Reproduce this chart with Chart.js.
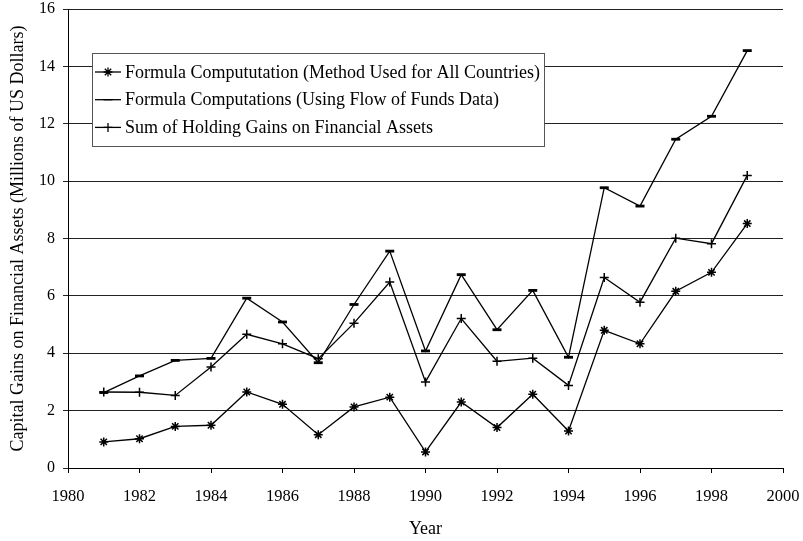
<!DOCTYPE html>
<html>
<head>
<meta charset="utf-8">
<script src="https://cdn.jsdelivr.net/npm/chart.js@4.4.1/dist/chart.umd.min.js"></script>
<style>
  html, body { margin: 0; padding: 0; background: #fff; }
  #wrap { width: 803px; height: 541px; }
</style>
</head>
<body>
<div id="wrap"><canvas id="chartCanvas" width="803" height="541"></canvas></div>
<script>
const years = [1981, 1982, 1983, 1984, 1985, 1986, 1987, 1988, 1989, 1990,
               1991, 1992, 1993, 1994, 1995, 1996, 1997, 1998, 1999];

// Formula Compututation (Method Used for All Countries)
const formulaAll = [0.91, 1.02, 1.45, 1.49, 2.65, 2.22, 1.16, 2.13, 2.47, 0.56,
                    2.30, 1.41, 2.57, 1.29, 4.80, 4.33, 6.16, 6.82, 8.52];
// Formula Computations (Using Flow of Funds Data)
const formulaFlow = [2.63, 3.21, 3.75, 3.82, 5.92, 5.09, 3.67, 5.70, 7.56, 4.08,
                     6.74, 4.82, 6.19, 3.86, 9.77, 9.13, 11.46, 12.26, 14.55];
// Sum of Holding Gains on Financial Assets
const holdingGains = [2.65, 2.64, 2.53, 3.52, 4.66, 4.33, 3.81, 5.05, 6.48, 3.00,
                      5.21, 3.72, 3.83, 2.88, 6.64, 5.78, 8.01, 7.82, 10.20];

const seriesLabels = [
    'Formula Compututation (Method Used for All Countries)',
    'Formula Computations (Using Flow of Funds Data)',
    'Sum of Holding Gains on Financial Assets'
];
const seriesMarkers = ['star', 'line', 'cross'];
const markerWidths = [1.5, 2.8, 1.5];

const serif = "'Liberation Serif', 'Times New Roman', serif";

function makeSet(label, values, marker, mw) {
    return {
        label: label,
        data: years.map((y, i) => ({ x: y, y: values[i] })),
        borderColor: '#000',
        backgroundColor: '#000',
        borderWidth: 1.3,
        pointStyle: marker,
        pointRadius: 4.5,
        pointBorderWidth: mw,
        pointBorderColor: '#000',
        tension: 0,
        fill: false
    };
}

// legend box drawn inside the plot, like the original
const boxLegend = {
    id: 'boxLegend',
    afterDatasetsDraw(chart) {
        const c = chart.ctx;
        const left = 92, top = 53, w = 452, h = 93;
        c.save();
        c.fillStyle = '#fff';
        c.fillRect(left, top, w, h);
        c.strokeStyle = '#555';
        c.lineWidth = 1;
        c.strokeRect(left + 0.5, top + 0.5, w, h);
        c.font = '18px ' + serif;
        c.textBaseline = 'middle';
        c.fillStyle = '#000';
        chart.data.datasets.forEach((ds, i) => {
            const y = top + 19 + i * 27.7;
            c.strokeStyle = '#000';
            c.lineWidth = 1.3;
            c.beginPath();
            c.moveTo(95, y);
            c.lineTo(121, y);
            c.stroke();
            Chart.helpers.drawPoint(c, { pointStyle: ds.pointStyle, radius: 4.5, rotation: 0,
                                         borderWidth: ds.pointBorderWidth }, 108, y);
            c.fillText(ds.label, 125, y + 1);
        });
        c.restore();
    }
};

const ctx = document.getElementById('chartCanvas').getContext('2d');

new Chart(ctx, {
    type: 'line',
    data: {
        datasets: seriesLabels.map((lbl, i) =>
            makeSet(lbl, [formulaAll, formulaFlow, holdingGains][i], seriesMarkers[i], markerWidths[i]))
    },
    options: {
        responsive: false,
        animation: false,
        layout: { padding: { top: 9, right: 20, left: 0, bottom: 0 } },
        plugins: {
            legend: { display: false },
            tooltip: { enabled: false }
        },
        scales: {
            x: {
                type: 'linear',
                min: 1980,
                max: 2000,
                ticks: { stepSize: 2, color: '#000', font: { family: serif, size: 16.5 }, padding: 14,
                         callback: v => String(v) },
                grid: { drawOnChartArea: false, drawTicks: true, tickLength: 5, color: '#000' },
                border: { display: true, color: '#000', width: 1 },
                title: { display: true, text: 'Year', color: '#000', font: { family: serif, size: 18 },
                         padding: { top: 0, bottom: 1 } },
                afterFit: s => { s.height = 73; s.paddingLeft = 0; s.paddingRight = 0; }
            },
            y: {
                min: 0,
                max: 16,
                ticks: { stepSize: 2, color: '#000', font: { family: serif, size: 16 }, padding: 8 },
                grid: { color: '#222', lineWidth: 1, drawTicks: true, tickLength: 5 },
                border: { display: true, color: '#000', width: 1 },
                title: { display: true, text: 'Capital Gains on Financial Assets (Millions of US Dollars)',
                         color: '#000', font: { family: serif, size: 18 }, padding: { top: 7, bottom: 0 } },
                afterFit: s => { s.width = 68; s.paddingTop = 0; s.paddingBottom = 0; }
            }
        }
    },
    plugins: [boxLegend]
});
</script>
</body>
</html>
